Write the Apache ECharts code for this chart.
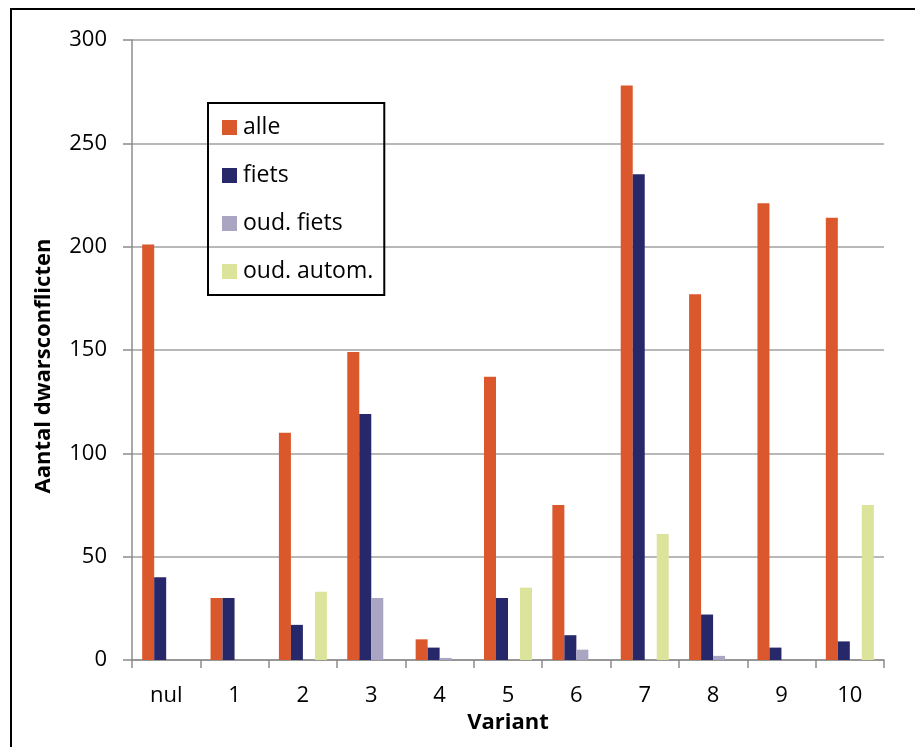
<!DOCTYPE html>
<html><head><meta charset="utf-8">
<script src="https://cdn.jsdelivr.net/npm/echarts@6/dist/echarts.min.js"></script>
<style>html,body{margin:0;padding:0;background:#fff}#c{width:915px;height:747px}</style>
</head><body><div id="c"></div>
<script>
const categories = ['nul','1','2','3','4','5','6','7','8','9','10'];
const alle = [201,30,110,149,10,137,75,278,177,221,214];
const fiets = [40,30,17,119,6,30,12,235,22,6,9];
const oudFiets = [0,0,0,30,1,0,5,0,2,0,0];
const oudAutom = [0,0,33,0,0,35,0,61,0,0,75];
const seriesNames = ['alle','fiets','oud. fiets','oud. autom.'];
const colors = ['#DA582C','#27286A','#A9A5C2','#DCE39B'];
const yTicks = [0,50,100,150,200,250,300];

const font = '"Open Sans", "Noto Sans", sans-serif';
const chart = echarts.init(document.getElementById('c'));
const mk = (name, data, i) => ({
  name, type:'bar', data, barWidth:12, barGap:'0%',
  itemStyle:{color:colors[i]}, animation:false
});
chart.setOption({
  animation:false,
  textStyle:{fontFamily:font},
  graphic:[{type:'rect', shape:{x:11,y:9,width:930,height:770}, style:{fill:'none',stroke:'#000',lineWidth:2}}],
  grid:{left:132,right:31,top:40,bottom:87,containLabel:false},
  legend:{
    orient:'vertical', left:208, top:103, data:seriesNames,
    itemWidth:15, itemHeight:15, itemGap:25, icon:'rect',
    padding:[13,11,12,14], borderColor:'#000', borderWidth:2,
    textStyle:{fontSize:23, color:'#000', fontFamily:font, padding:[0,0,0,1]}
  },
  xAxis:{
    type:'category', data:categories,
    name:'Variant', nameLocation:'middle', nameGap:34,
    nameTextStyle:{fontSize:22, fontWeight:'bold', color:'#000', fontFamily:font},
    axisLine:{lineStyle:{color:'#8C8C8C', width:1.5}},
    axisTick:{show:true, length:8, lineStyle:{color:'#8C8C8C', width:1.5}},
    axisLabel:{fontSize:22, color:'#000', margin:25, fontFamily:font}
  },
  yAxis:{
    type:'value', min:yTicks[0], max:yTicks[yTicks.length-1], interval:50,
    name:'Aantal dwarsconflicten', nameLocation:'middle', nameGap:77,
    nameTextStyle:{fontSize:22, fontWeight:'bold', color:'#000', fontFamily:font, padding:[0,32,0,0]},
    axisLine:{show:true, lineStyle:{color:'#8C8C8C', width:1.5}},
    axisTick:{show:true, length:9, lineStyle:{color:'#8C8C8C', width:1.5}},
    axisLabel:{fontSize:22, color:'#000', margin:25, fontFamily:font},
    splitLine:{lineStyle:{color:'#A0A0A0', width:1.5}}
  },
  series:[mk(seriesNames[0],alle,0),mk(seriesNames[1],fiets,1),mk(seriesNames[2],oudFiets,2),mk(seriesNames[3],oudAutom,3)]
});
</script></body></html>
